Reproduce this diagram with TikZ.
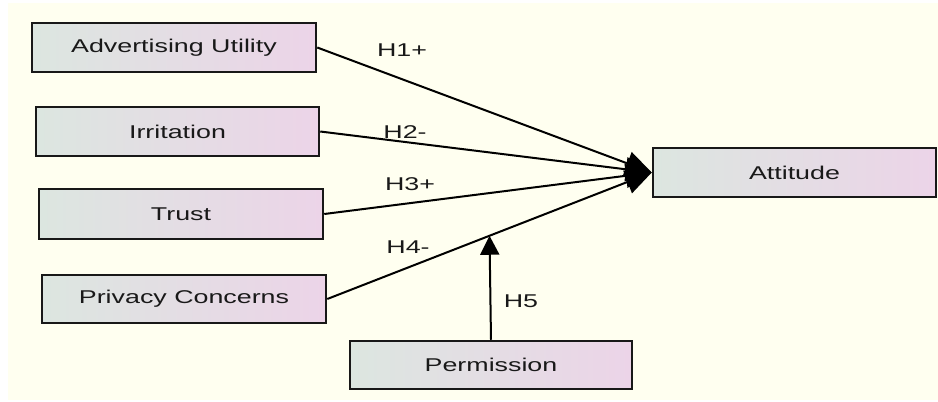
\documentclass[tikz,border=0pt]{standalone}
\usepackage{fontspec}
\setmainfont{Liberation Sans}[FakeStretch=1.45]
\usetikzlibrary{arrows.meta,calc}
\definecolor{cream}{RGB}{255,255,240}
\definecolor{boxleft}{RGB}{220,230,224}
\definecolor{boxright}{RGB}{236,212,232}
\definecolor{edge}{RGB}{24,24,24}
\definecolor{ink}{RGB}{25,25,25}
\tikzset{
  x=1pt, y=-1pt,
  varbox/.style={draw=edge, line width=2.5pt, left color=boxleft, right color=boxright,
    minimum width=283pt, minimum height=49pt, inner sep=0pt,
    font=\fontsize{18.5}{21}\selectfont, text=ink},
  path/.style={draw=black, line width=2pt, -{Triangle[length=26pt,width=24pt]}},
  hyp/.style={font=\fontsize{18.5}{21}\selectfont, text=ink, inner sep=0pt}
}
\begin{document}
\begin{tikzpicture}
\useasboundingbox (0,0) rectangle (938,402);
\fill[white] (0,0) rectangle (938,402);
\fill[cream] (8,3) rectangle (938,400);

\node[varbox, minimum width=284pt] (adv) at (174,47.5) {Advertising Utility};
\node[varbox] (irr) at (177.5,131.5) {Irritation};
\node[varbox, minimum width=284pt, minimum height=50pt] (tru) at (181,214) {Trust};
\node[varbox, minimum width=284pt, minimum height=48pt] (pri) at (184,299) {Privacy Concerns};
\node[varbox, minimum width=282pt, minimum height=48pt] (per) at (491,365) {Permission};
\node[varbox] (att) at (794.5,172.5) {Attitude};

\draw[path] (adv.east) -- (att.west);
\draw[path] (irr.east) -- (att.west);
\draw[path] (tru.east) -- (att.west);
\draw[path] (pri.east) -- (att.west);

\coordinate (mod) at ($(pri.east)!0.5!(att.west)$);
\draw[draw=black, line width=2pt, -{Triangle[length=19pt,width=19pt]}] (per.north) -- (mod);

\node[hyp] (h1) at (402,50.5) {H1+};
\node[hyp] (h2) at (405,132) {H2-};
\node[hyp] (h3) at (410,184) {H3+};
\node[hyp] (h4) at (408,247) {H4-};
\node[hyp] (h5) at (521,301) {H5};
\end{tikzpicture}
\end{document}
